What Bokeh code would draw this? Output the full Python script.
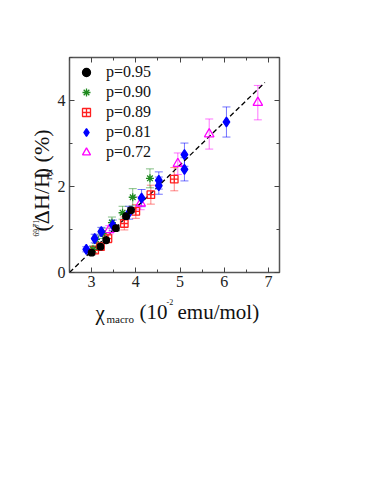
import math
from bokeh.plotting import figure
from bokeh.layouts import column, row
from bokeh.models import (ColumnDataSource, Whisker, TeeHead, LinearAxis,
                          FixedTicker, Range1d, Legend, LegendItem,
                          CustomJSTickFormatter)
from bokeh.core.properties import value
from bokeh.embed import file_html
from bokeh.resources import INLINE

# ---------------- data ----------------
labels = ["p=0.95", "p=0.90", "p=0.89", "p=0.81", "p=0.72"]

x_095 = [3.00, 3.20, 3.33, 3.55, 3.78, 3.89]
y_095 = [0.46, 0.60, 0.75, 1.03, 1.31, 1.45]
e_095 = [0.05, 0.05, 0.05, 0.06, 0.06, 0.06]

x_090 = [3.03, 3.10, 3.25, 3.46, 3.70, 3.93, 4.32]
y_090 = [0.54, 0.77, 0.91, 1.16, 1.39, 1.75, 2.19]
e_090 = [0.08, 0.10, 0.12, 0.13, 0.15, 0.20, 0.22]

x_089 = [3.07, 3.20, 3.37, 3.74, 4.00, 4.34, 4.87]
y_089 = [0.52, 0.60, 0.79, 1.14, 1.42, 1.81, 2.17]
e_089 = [0.07, 0.08, 0.10, 0.15, 0.16, 0.22, 0.27]

x_081 = [2.88, 3.07, 3.22, 3.48, 3.85, 4.13, 4.52, 4.52, 5.10, 5.10, 6.05]
y_081 = [0.54, 0.79, 0.95, 1.10, 1.39, 1.73, 2.02, 2.14, 2.40, 2.74, 3.50]
e_081 = [0.06, 0.10, 0.10, 0.12, 0.15, 0.20, 0.20, 0.20, 0.27, 0.27, 0.35]

x_072 = [3.40, 4.11, 4.95, 5.66, 6.76]
y_072 = [0.99, 1.61, 2.53, 3.22, 3.95]
e_072 = [0.10, 0.15, 0.25, 0.35, 0.40]

fit_slope = 1.0
fit_intercept = -2.5
fit_x = [2.5, 6.92]

x_ticks = [3, 4, 5, 6, 7]
x_minor = [2.5, 3.5, 4.5, 5.5, 6.5]
y_ticks = [0, 2, 4]
y_minor = [1, 3, 5]

# ---------------- layout ----------------
SERIF = "Liberation Serif"
XR = (2.5, 7.25)
YR = (0.0, 5.0)

YL_W = 54                 # y-title strip width
BL, BR, BT, BB = 14, 95, 57, 26
FRAME_W, FRAME_H = 211, 215
MAIN_W = BL + FRAME_W + BR
MAIN_H = BT + FRAME_H + BB
XL_H = 50                 # x-title strip height
PAGE_W = YL_W + MAIN_W


def blank_fig(w, h):
    f = figure(width=w, height=h, output_backend="svg", toolbar_location=None,
               x_range=Range1d(0, w), y_range=Range1d(0, h),
               min_border=0, min_border_left=0, min_border_right=0,
               min_border_top=0, min_border_bottom=0)
    f.axis.visible = False
    f.grid.visible = False
    f.outline_line_color = None
    f.background_fill_color = "white"
    f.border_fill_color = "white"
    return f


p = figure(width=MAIN_W, height=MAIN_H, output_backend="svg", toolbar_location=None,
           x_range=Range1d(*XR), y_range=Range1d(*YR),
           min_border_left=BL, min_border_right=BR,
           min_border_top=BT, min_border_bottom=BB)
p.grid.visible = False
p.outline_line_color = "#555555"
p.outline_line_width = 1.5
p.background_fill_color = "white"
p.border_fill_color = "white"


def style_axis(ax, show_labels=True, standoff=4):
    ax.axis_line_color = None
    ax.major_tick_in = 5
    ax.major_tick_out = 0
    ax.minor_tick_in = 3
    ax.minor_tick_out = 0
    ax.major_tick_line_color = "#444444"
    ax.minor_tick_line_color = "#444444"
    ax.major_label_text_font = SERIF
    ax.major_label_text_font_size = "16px"
    ax.major_label_text_color = "#222222"
    ax.major_label_standoff = standoff
    if not show_labels:
        ax.formatter = CustomJSTickFormatter(code="return ''")


p.xaxis.ticker = FixedTicker(ticks=x_ticks, minor_ticks=x_minor)
p.yaxis.ticker = FixedTicker(ticks=y_ticks, minor_ticks=y_minor)
style_axis(p.xaxis[0], True, 3)
style_axis(p.yaxis[0], True, 4)

top_ax = LinearAxis(ticker=FixedTicker(ticks=x_ticks, minor_ticks=x_minor))
right_ax = LinearAxis(ticker=FixedTicker(ticks=y_ticks, minor_ticks=y_minor))
style_axis(top_ax, False)
style_axis(right_ax, False)
p.add_layout(top_ax, "above")
p.add_layout(right_ax, "right")

# fit line
fit_y = [fit_slope * v + fit_intercept for v in fit_x]
p.line(fit_x, fit_y, line_color="black", line_width=1.3, line_dash="5 3")

# (x, y, err, colour, marker, size, filled)
series = [
    (x_095, y_095, e_095, "black", "circle", 6.5, True),
    (x_090, y_090, e_090, "#1f8a1f", "asterisk", 8, False),
    (x_089, y_089, e_089, "#ff2020", "square_cross", 7.5, False),
    (x_081, y_081, e_081, "#0000ff", "diamond", 10, True),
    (x_072, y_072, e_072, "#ff00ff", "triangle", 9.5, False),
]

draw_order = [4, 2, 1, 3, 0]
renderers = {}
for i in draw_order:
    xs, ys, es, col, mk, sz, filled = series[i]
    src = ColumnDataSource(dict(x=xs, y=ys,
                                lo=[a - b for a, b in zip(ys, es)],
                                hi=[a + b for a, b in zip(ys, es)]))
    w = Whisker(source=src, base="x", lower="lo", upper="hi", dimension="height",
                line_color=col, line_alpha=0.55, line_width=1,
                upper_head=TeeHead(size=8, line_color=col, line_alpha=0.55, line_width=1),
                lower_head=TeeHead(size=8, line_color=col, line_alpha=0.55, line_width=1))
    p.add_layout(w)
for i in draw_order:
    xs, ys, es, col, mk, sz, filled = series[i]
    src = ColumnDataSource(dict(x=xs, y=ys))
    renderers[i] = p.scatter("x", "y", source=src, marker=mk, size=sz,
                             line_color=col, line_width=1.3,
                             fill_color=col if filled else "white",
                             fill_alpha=1.0 if filled else 0.0)

items = [LegendItem(label=labels[i], renderers=[renderers[i]]) for i in range(5)]
legend = Legend(items=items, location=(6, 110))
legend.background_fill_alpha = 0
legend.border_line_color = None
legend.margin = 0
legend.padding = 0
legend.glyph_width = 22
legend.glyph_height = 20
legend.label_height = 20
legend.spacing = 0
legend.label_standoff = 9
legend.label_text_font = SERIF
legend.label_text_font_size = "16px"
legend.label_text_color = "#111111"
p.add_layout(legend)

# ---------------- axis titles (text strips) ----------------
ylab = blank_fig(YL_W, MAIN_H)
xlab = blank_fig(PAGE_W, XL_H)


def put(fig, left, top, text, px, py, size, angle=0.0, align="left"):
    # px, py: page position of the text anchor (vertical middle)
    fig.text(x=[px - left], y=[top + fig.height - py], text=[text], angle=angle,
             text_font=value(SERIF), text_font_size=value(f"{size}px"),
             text_color="#111111", text_align=align,
             text_baseline="middle")


XL_TOP = MAIN_H
# x title
put(xlab, 0, XL_TOP, "\u03c7", 95, 312, 21)
put(xlab, 0, XL_TOP, "macro", 106, 318, 11)
put(xlab, 0, XL_TOP, "(10", 139, 311, 21)
put(xlab, 0, XL_TOP, "-2", 166, 301.5, 8)
put(xlab, 0, XL_TOP, "emu/mol)", 177, 311, 21)

# y title (rotated, reads bottom to top), anchored at each piece's centre
rot = math.pi / 2
put(ylab, 0, 0, "69,71", 35.5, 236.5, 7.5, rot, "center")
put(ylab, 0, 0, "(\u0394H/H", 40.5, 200, 22, rot, "center")
put(ylab, 0, 0, "ref", 48, 162, 10, rot, "center")
put(ylab, 0, 0, ") (%)", 40.5, 131.5, 22, rot, "center")

layout = column(row(ylab, p, spacing=0), xlab, spacing=0)
open("out.html", "w").write(file_html(layout, INLINE))
